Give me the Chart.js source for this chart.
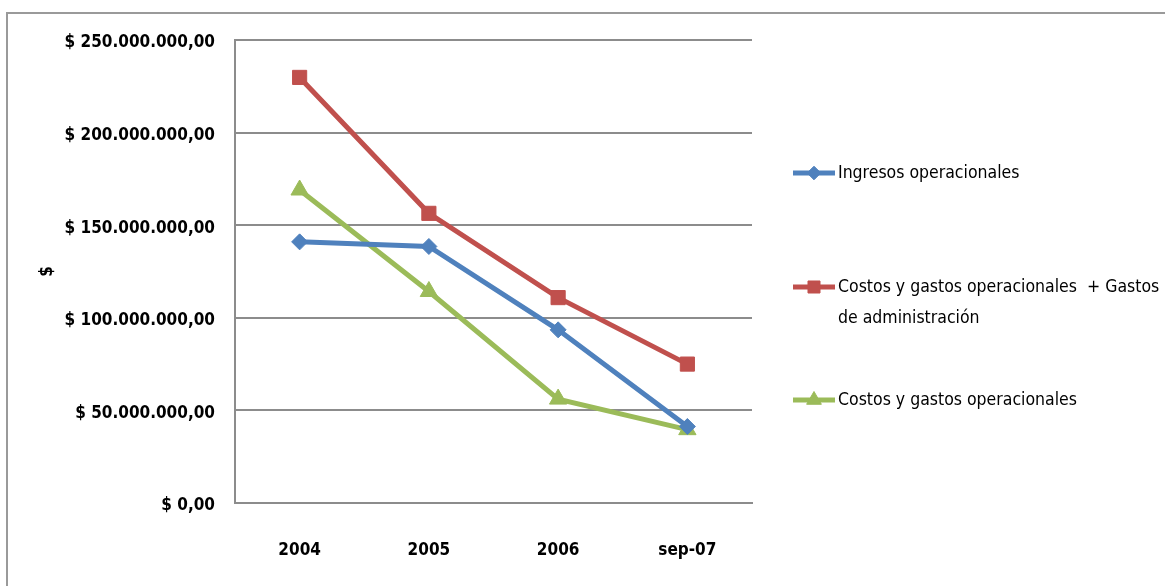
<!DOCTYPE html>
<html>
<head>
<meta charset="utf-8">
<script src="https://cdn.jsdelivr.net/npm/chart.js@4.4.1/dist/chart.umd.min.js"></script>
<style>
  html, body { margin: 0; padding: 0; background: #fff; overflow: hidden; }
  #wrap { position: relative; width: 1165px; height: 586px; }
</style>
</head>
<body>
<div id="wrap"><canvas id="lineChart"></canvas></div>
<script>
// categorías y series
const years = ['2004', '2005', '2006', 'sep-07'];
const ingresos = [141000000, 138500000, 93500000, 41300000];
const costosAdmin = [229800000, 156400000, 110900000, 75000000];
const costos = [169000000, 114200000, 56100000, 39600000];
const yTickLabels = ['$ 0,00', '$ 50.000.000,00', '$ 100.000.000,00', '$ 150.000.000,00', '$ 200.000.000,00', '$ 250.000.000,00'];
const legendLabels = [['Ingresos operacionales'], ['Costos y gastos operacionales  + Gastos', 'de administración'], ['Costos y gastos operacionales']];

const FONT = "'Liberation Sans Narrow', 'DejaVu Sans Condensed', 'Liberation Sans', sans-serif";
const colors = ['#4F81BD', '#C0504D', '#9BBB59'];
const styles = [
  { pointStyle: 'rectRot', radius: 8 },
  { pointStyle: 'rect', radius: 10 },
  { pointStyle: 'triangle', radius: 10 }
];

// marco exterior + leyenda dibujada a mano (la etiqueta del medio tiene dos líneas)
const frameAndLegend = {
  id: 'frameAndLegend',
  beforeDraw(chart) {
    const c = chart.ctx;
    c.save();
    c.strokeStyle = '#9a9a9a';
    c.lineWidth = 2;
    c.beginPath();
    c.moveTo(7, 600);
    c.lineTo(7, 13);
    c.lineTo(1200, 13);
    c.stroke();
    c.restore();
  },
  afterDraw(chart) {
    const c = chart.ctx;
    const rows = [173, 287, 400];
    c.save();
    rows.forEach((y, i) => {
      c.strokeStyle = colors[i];
      c.lineWidth = 5;
      c.beginPath();
      c.moveTo(793, y);
      c.lineTo(835, y);
      c.stroke();
      c.fillStyle = colors[i];
      c.strokeStyle = colors[i];
      c.lineWidth = 1;
      Chart.helpers.drawPoint(c, { pointStyle: styles[i].pointStyle, radius: styles[i].radius * 0.85, rotation: 0, borderWidth: 1 }, 814, y);
      c.fillStyle = '#000';
      c.font = '17.5px ' + FONT;
      c.textBaseline = 'middle';
      c.textAlign = 'left';
      legendLabels[i].forEach((t, k) => c.fillText(t, 838, y + k * 31));
    });
    c.restore();
  }
};

function makeSet(label, data, i) {
  return {
    label: label,
    data: data,
    borderColor: colors[i],
    backgroundColor: colors[i],
    borderWidth: 5,
    pointStyle: styles[i].pointStyle,
    pointRadius: styles[i].radius,
    pointBorderWidth: 1,
    tension: 0
  };
}

new Chart(document.getElementById('lineChart'), {
  type: 'line',
  data: {
    labels: years,
    datasets: [
      makeSet('Ingresos operacionales', ingresos, 0),
      makeSet('Costos y gastos operacionales  + Gastos de administración', costosAdmin, 1),
      makeSet('Costos y gastos operacionales', costos, 2)
    ]
  },
  options: {
    responsive: true,
    maintainAspectRatio: false,
    animation: false,
    layout: { padding: { left: 33, right: 413, top: 40, bottom: 20 } },
    plugins: {
      legend: { display: false },
      tooltip: { enabled: false }
    },
    scales: {
      x: {
        offset: true,
        grid: { display: false, drawTicks: false },
        border: { color: '#8c8c8c', width: 2 },
        ticks: {
          color: '#000',
          padding: 37,
          font: { family: FONT, size: 17, weight: 'bold' }
        },
        afterFit: s => { s.height = 63; }
      },
      y: {
        min: 0,
        max: 250000000,
        grid: { color: '#8c8c8c', lineWidth: 2, drawTicks: false },
        border: { color: '#8c8c8c', width: 2 },
        ticks: {
          stepSize: 50000000,
          color: '#000',
          padding: 20,
          labelOffset: 3,
          font: { family: FONT, size: 17, weight: 'bold' },
          callback: (v, idx) => yTickLabels[idx]
        },
        title: {
          display: true,
          text: '$',
          color: '#000',
          font: { family: FONT, size: 17, weight: 'bold' }
        },
        afterFit: s => { s.width = 235 - 33; }
      }
    }
  },
  plugins: [frameAndLegend]
});
</script>
</body>
</html>
